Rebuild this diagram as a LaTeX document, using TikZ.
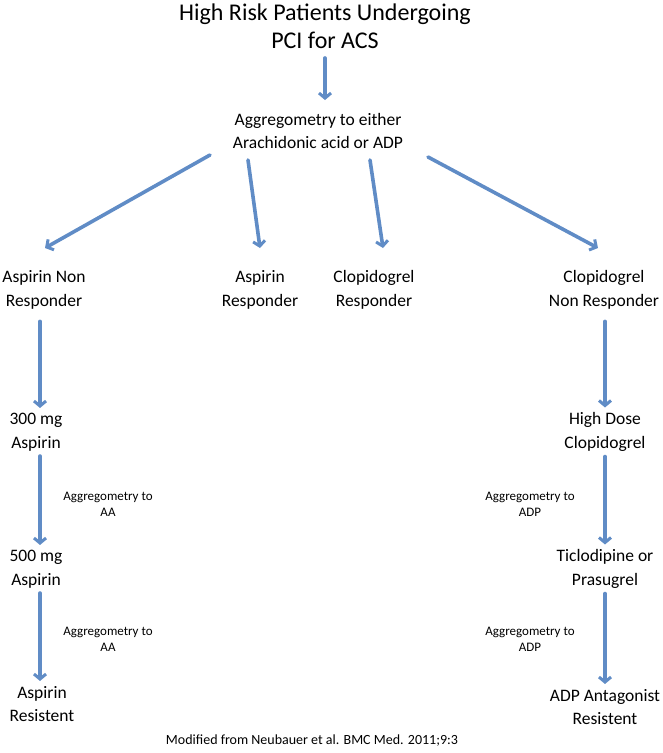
\documentclass[tikz,border=0pt]{standalone}
\usepackage{fontspec}
\setmainfont{Carlito}
\usetikzlibrary{arrows.meta}
\definecolor{flechebleu}{RGB}{96,140,198}
\tikzset{
  titre/.style={align=center, inner sep=2pt, font=\fontsize{24}{28}\selectfont},
  etape/.style={align=center, inner sep=2pt, font=\fontsize{17.5}{23.5}\selectfont},
  petit/.style={align=center, inner sep=1pt, font=\fontsize{13}{16}\selectfont},
  flux/.style={draw=flechebleu, line width=3.6pt, line cap=round,
    -{Straight Barb[length=5pt,width=12pt,line width=3pt]}, shorten <=3pt, shorten >=3pt}
}
\begin{document}
\begin{tikzpicture}[x=1pt,y=-1pt]
    \useasboundingbox (0,0) rectangle (662,753);
    % haut
    \node[titre] (patients) at (325,26) {High Risk Patients Undergoing\\PCI for ACS};
    \node[etape] (aggreg) at (318,131) {Aggregometry to either\\Arachidonic acid or ADP};
    \draw[flux, shorten <=0pt, shorten >=0pt] (325,58) -- (325,100);
    % quatre branches
    \node[etape] (asnr) at (44,290) {Aspirin Non\\Responder};
    \node[etape] (asr) at (260,290) {Aspirin\\Responder};
    \node[etape] (clr) at (374,290) {Clopidogrel\\Responder};
    \node[etape] (clnr) at (604,290) {Clopidogrel\\Non Responder};
    \coordinate (d1) at (210,155);
    \coordinate (d2) at (248,160);
    \coordinate (d3) at (370,160);
    \coordinate (d4) at (428,157);
    \coordinate (f1) at (45,248);
    \coordinate (f2) at (260,248);
    \coordinate (f3) at (383,248);
    \coordinate (f4) at (598,248);
    \foreach \i in {1,...,4}
      \draw[flux, shorten <=0pt, shorten >=0pt] (d\i) -- (f\i);
    % colonne aspirine
    \node[etape] (as300) at (36,432) {300 mg\\Aspirin};
    \node[etape] (as500) at (36,569) {500 mg\\Aspirin};
    \node[etape] (asres) at (42,704) {Aspirin\\Resistent};
    \draw[flux, shorten <=10pt] (asnr.south -| 40,0) -- (as300.north -| 40,0);
    \draw[flux] (as300.south -| 40,0) -- (as500.north -| 40,0);
    \draw[flux] (as500.south -| 40,0) -- (asres.north -| 40,0);
    \node[petit] (aa1) at (108,504) {Aggregometry to\\AA};
    \node[petit] (aa2) at (108,639) {Aggregometry to\\AA};
    % colonne clopidogrel
    \node[etape] (hdc) at (605,432) {High Dose\\Clopidogrel};
    \node[etape] (ticlo) at (605,569) {Ticlodipine or\\Prasugrel};
    \node[etape] (adpres) at (605,707) {ADP Antagonist\\Resistent};
    \draw[flux, shorten <=10pt] (clnr.south -| 605,0) -- (hdc.north -| 605,0);
    \draw[flux] (hdc) -- (ticlo);
    \draw[flux] (ticlo) -- (adpres);
    \node[petit] (adp1) at (530,504) {Aggregometry to\\ADP};
    \node[petit] (adp2) at (530,639) {Aggregometry to\\ADP};
    % source
    \node[petit, font=\fontsize{14}{16}\selectfont] (source) at (312,741) {Modified from Neubauer et al. BMC Med. 2011;9:3};
\end{tikzpicture}
\end{document}
